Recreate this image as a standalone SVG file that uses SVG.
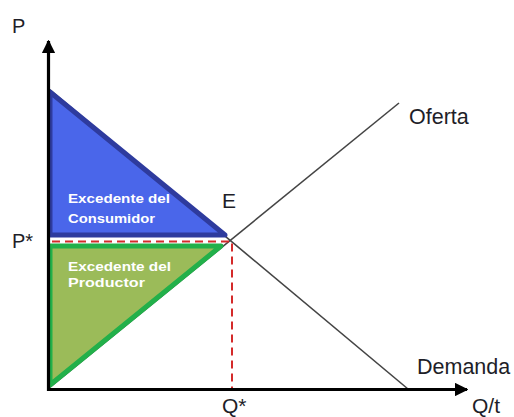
<svg xmlns="http://www.w3.org/2000/svg" width="514" height="417" viewBox="0 0 514 417">
<style>
.lbl{font-family:"Liberation Sans",Arial,sans-serif;fill:#1e1e28}
.big{font-size:21px}
.area{font-family:"Liberation Sans",Arial,sans-serif;font-size:13.5px;font-weight:bold;fill:#ffffff}
.curve{stroke:#444;stroke-width:1.6;fill:none}
.dash{stroke:#d42a2a;stroke-width:2;stroke-dasharray:8 5;fill:none}
.axis{stroke:#000;stroke-width:3.2;fill:none}
</style>
<defs>
<marker id="arr" viewBox="0 0 10 10" refX="9" refY="5" markerWidth="4.2" markerHeight="4.2" orient="auto" markerUnits="strokeWidth">
<path d="M0,0 L10,5 L0,10 Z" fill="#000"/>
</marker>
</defs>
<g id="connectors">
<line class="curve" x1="49" y1="89" x2="408" y2="389"/>
<line class="curve" x1="49" y1="388" x2="399" y2="103"/>
</g>
<g id="consumidor">
<polygon points="50,92 50,235 225,235" fill="#4a66ea" stroke="#2e3b9e" stroke-width="5" stroke-linejoin="round"/>
<text class="area" x="68" y="203" textLength="102" lengthAdjust="spacingAndGlyphs">Excedente del</text>
<text class="area" x="68" y="223" textLength="87" lengthAdjust="spacingAndGlyphs">Consumidor</text>
</g>
<g id="productor">
<polygon points="50,246 221,246 50,385" fill="#9bbb59" stroke="#22b04a" stroke-width="5" stroke-linejoin="round"/>
<text class="area" x="68" y="271" textLength="103" lengthAdjust="spacingAndGlyphs">Excedente del</text>
<text class="area" x="68" y="287" textLength="77" lengthAdjust="spacingAndGlyphs">Productor</text>
</g>
<g id="equilibrio">
<polyline class="dash" points="52,241.5 232,241.5 232,388"/>
</g>
<g id="ejes">
<line class="axis" x1="48.5" y1="391" x2="48.5" y2="41" marker-end="url(#arr)"/>
<line class="axis" x1="47" y1="389.5" x2="467" y2="389.5" marker-end="url(#arr)"/>
</g>
<g id="labels">
<text class="lbl" x="12" y="33" font-size="20">P</text>
<text class="lbl" x="12" y="248" font-size="20">P*</text>
<text class="lbl big" x="222" y="208">E</text>
<text class="lbl big" x="222" y="413">Q*</text>
<text class="lbl big" x="472" y="413">Q/t</text>
<text class="lbl" x="409" y="124" font-size="21.5">Oferta</text>
<text class="lbl" x="417" y="374" font-size="21.5">Demanda</text>
</g>
</svg>
